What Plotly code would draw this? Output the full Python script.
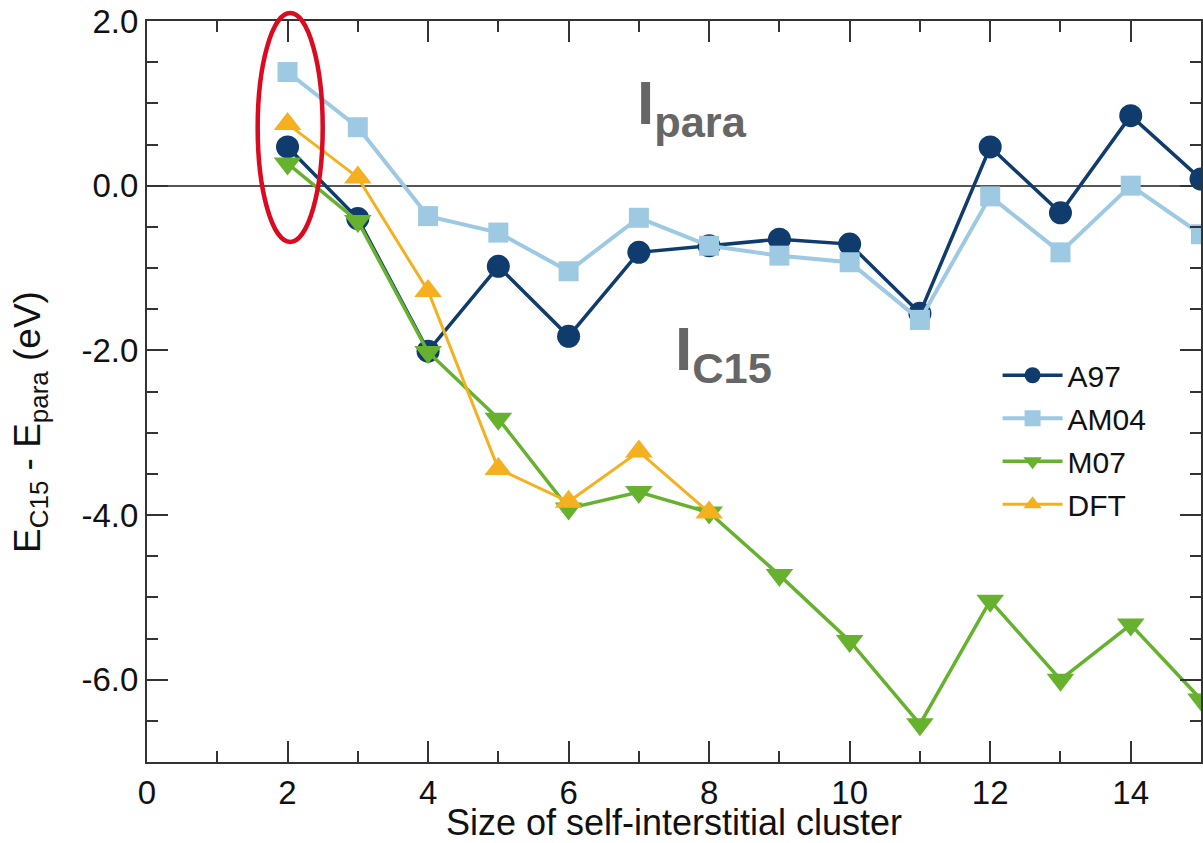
import plotly.graph_objects as go

# ---- data ----
sizes = [2, 3, 4, 5, 6, 7, 8, 9, 10, 11, 12, 13, 14, 15]
a97 = [0.47, -0.40, -2.01, -0.98, -1.83, -0.81, -0.73, -0.65, -0.71, -1.55, 0.47, -0.33, 0.85, 0.08]
am04 = [1.38, 0.71, -0.37, -0.57, -1.04, -0.39, -0.73, -0.85, -0.93, -1.63, -0.13, -0.81, 0.0, -0.59]
m07 = [0.27, -0.43, -2.02, -2.83, -3.92, -3.72, -3.97, -4.73, -5.53, -6.54, -5.04, -6.0, -5.33, -6.24]
dft_sizes = [2, 3, 4, 5, 6, 7, 8]
dft = [0.75, 0.10, -1.28, -3.44, -3.84, -3.23, -3.97]

y_tickvals = [2, 0, -2, -4, -6]
y_ticktext = ["2.0", "0.0", "-2.0", "-4.0", "-6.0"]
x_tickvals = [0, 2, 4, 6, 8, 10, 12, 14]
x_ticktext = ["0", "2", "4", "6", "8", "10", "12", "14"]

FONT = "Liberation Sans, Arial, Helvetica, sans-serif"
AXC = "#333333"

fig = go.Figure()
series = [
    ("A97", sizes, a97, "#0f3b6d", "circle", 23, 3.5),
    ("AM04", sizes, am04, "#9ec9e3", "square", 20, 4),
    ("M07", sizes, m07, "#66b22e", "triangle-down", 24, 3.5),
    ("DFT", dft_sizes, dft, "#f5b01f", "triangle-up", 24, 3),
]
for name, xs, ys, col, sym, ms, lw in series:
    fig.add_trace(go.Scatter(
        x=xs, y=ys, name=name, mode="lines+markers", legendgroup=name,
        line=dict(color=col, width=lw),
        marker=dict(symbol=sym, size=ms, color=col, line=dict(width=0)),
        cliponaxis=False,
    ))

fig.update_xaxes(
    range=[0, 15], showgrid=False, zeroline=False,
    showline=True, linecolor=AXC, linewidth=2, mirror="allticks",
    ticks="inside", ticklen=21, tickwidth=2, tickcolor=AXC,
    tickmode="array", tickvals=x_tickvals, ticktext=x_ticktext,
    tickfont=dict(family=FONT, size=33, color="#111111"),
    minor=dict(tickmode="linear", tick0=0, dtick=1, ticks="inside", ticklen=11,
               tickwidth=2, tickcolor=AXC, showgrid=False),
    title=dict(text="Size of self-interstitial cluster",
               font=dict(family=FONT, size=36, color="#111111"), standoff=7),
)
fig.update_yaxes(
    range=[-7, 2], showgrid=False,
    zeroline=True, zerolinecolor="#555555", zerolinewidth=2,
    showline=True, linecolor=AXC, linewidth=2, mirror="allticks",
    ticks="inside", ticklen=21, tickwidth=2, tickcolor=AXC,
    tickmode="array", tickvals=y_tickvals, ticktext=y_ticktext,
    tickfont=dict(family=FONT, size=33, color="#111111"),
    ticklabeloverflow="allow",
    minor=dict(tickmode="linear", tick0=0, dtick=0.5, ticks="inside", ticklen=11,
               tickwidth=2, tickcolor=AXC, showgrid=False),
)

annots = [
    dict(text="E<sub>C15</sub> - E<sub>para</sub> (eV)", xref="paper", yref="paper",
         x=0, y=0.459, xshift=-117, textangle=-90, showarrow=False,
         xanchor="center", yanchor="middle",
         font=dict(family=FONT, size=37, color="#111111")),
    dict(text="<b>I<sub>para</sub></b>", xref="x", yref="y", x=6.95, y=1.45,
         xanchor="left", yanchor="top", showarrow=False,
         font=dict(family=FONT, size=62, color="#666666")),
    dict(text="<b>I<sub>C15</sub></b>", xref="x", yref="y", x=7.48, y=-1.53,
         xanchor="left", yanchor="top", showarrow=False,
         font=dict(family=FONT, size=62, color="#666666")),
]
fig.update_layout(annotations=annots)

fig.add_shape(type="circle", xref="paper", yref="paper",
              x0=0.105, x1=0.1667, y0=0.7018, y1=1.0108,
              line=dict(color="#dc0a1e", width=4.5))

fig.update_layout(
    width=1203, height=843,
    margin=dict(l=147, r=0, t=21, b=81, pad=0),
    paper_bgcolor="white", plot_bgcolor="white",
    showlegend=True,
    legend=dict(x=0.807, y=0.557, xanchor="left", yanchor="top",
                font=dict(family=FONT, size=30, color="#111111"),
                bgcolor="rgba(0,0,0,0)", tracegroupgap=1, traceorder="grouped",
                itemwidth=60),
)

# remove the default 8px page margin so the figure sits at the window's corner
fig.write_html("out.html", config={"displayModeBar": False},
               post_script="document.body.style.margin='0';document.body.style.overflow='hidden';")
